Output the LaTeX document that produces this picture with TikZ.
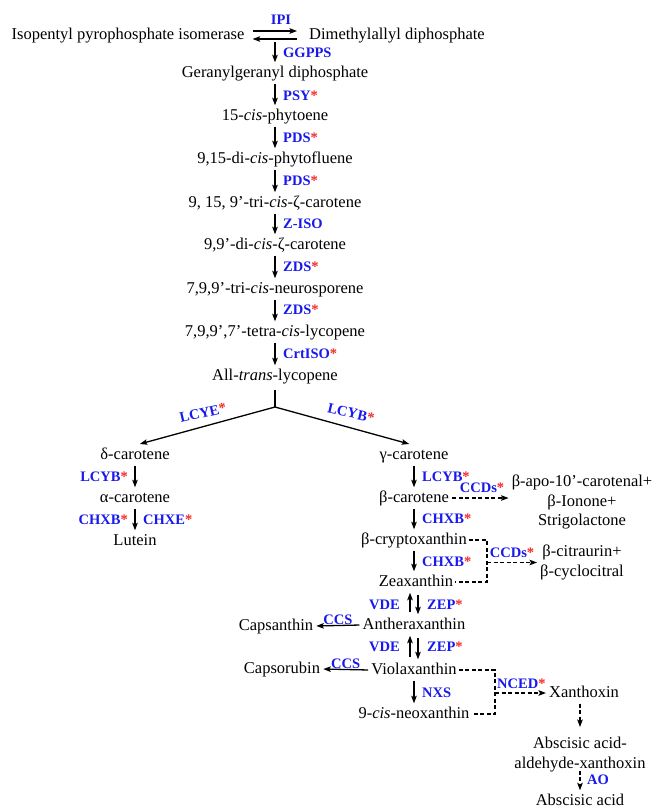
\documentclass[tikz,border=0pt]{standalone}
\usepackage{fontspec}
\setmainfont{Liberation Serif}
\usetikzlibrary{arrows.meta,calc}
\definecolor{eblue}{RGB}{25,25,235}
\definecolor{ered}{RGB}{245,40,40}
\newcommand{\rstar}{\textcolor{ered}{*}}
\begin{document}
\begin{tikzpicture}[x=1pt,y=-1pt,
  txt/.style={font=\fontsize{16.5}{19.5}\selectfont, inner sep=2pt, text height=11.5pt, text depth=3.5pt},
  txtm/.style={font=\fontsize{16.5}{19.5}\selectfont, inner sep=2pt, align=center},
  enz/.style={font=\bfseries\fontsize{14.5}{16}\selectfont, text=eblue, inner sep=1pt},
  arr/.style={-{Stealth[length=7.5pt,width=5.5pt,inset=1.5pt]}, line width=1.3pt, shorten >=1pt, shorten <=1pt},
  darr/.style={arr, dash pattern=on 4pt off 2.5pt},
  dln/.style={line width=1.3pt, dash pattern=on 4pt off 2.5pt},
  ln/.style={line width=1.3pt}]
\useasboundingbox (0,0) rectangle (654,806);

% top equilibrium
\node[txt] (ipp) at (128,35) {Isopentyl pyrophosphate isomerase};
\node[txt] (dma) at (397,35) {Dimethylallyl diphosphate};
\draw[arr, shorten <=6pt, shorten >=10pt] ($(ipp.east)+(0,-4)$) -- ($(dma.west)+(0,-4)$);
\draw[arr, shorten <=10pt, shorten >=6pt] ($(dma.west)+(0,4)$) -- ($(ipp.east)+(0,4)$);
\node[enz] (ipi) at (281,20) {IPI};
\coordinate (eq) at (275,42);

% main column
\node[txt] (ggpp) at (275,73) {Geranylgeranyl diphosphate};
\node[txt] (phy) at (275,116) {15-\textit{cis}-phytoene};
\node[txt] (pfl) at (275,159) {9,15-di-\textit{cis}-phytofluene};
\node[txt] (zc3) at (275,203) {9, 15, 9’-tri-\textit{cis}-ζ-carotene};
\node[txt] (zc2) at (275,245) {9,9’-di-\textit{cis}-ζ-carotene};
\node[txt] (neu) at (275,289) {7,9,9’-tri-\textit{cis}-neurosporene};
\node[txt] (lyct) at (275,332) {7,9,9’,7’-tetra-\textit{cis}-lycopene};
\node[txt] (lyc) at (275,376) {All-\textit{trans}-lycopene};

\draw[arr, shorten <=0pt] (eq) -- (ggpp.north);
\draw[arr] (ggpp.south) -- (phy.north);
\draw[arr] (phy.south) -- (pfl.north);
\draw[arr] (pfl.south) -- (zc3.north);
\draw[arr] (zc3.south) -- (zc2.north);
\draw[arr] (zc2.south) -- (neu.north);
\draw[arr] (neu.south) -- (lyct.north);
\draw[arr] (lyct.south) -- (lyc.north);

\node[enz, anchor=west] (e1) at (282,53) {GGPPS};
\node[enz, anchor=west] (e2) at (282,96) {PSY\rstar};
\node[enz, anchor=west] (e3) at (282,138) {PDS\rstar};
\node[enz, anchor=west] (e4) at (282,181) {PDS\rstar};
\node[enz, anchor=west] (e5) at (282,224) {Z-ISO};
\node[enz, anchor=west] (e6) at (282,267) {ZDS\rstar};
\node[enz, anchor=west] (e7) at (282,310) {ZDS\rstar};
\node[enz, anchor=west] (e8) at (282,354) {CrtISO\rstar};

% branch
\coordinate (jn) at (275,407);
\node[txt] (dcar) at (135,455) {δ-carotene};
\node[txt] (gcar) at (414,455) {γ-carotene};
\draw[ln, shorten <=4pt] (lyc.south) -- (jn);
\draw[arr, shorten <=0pt, shorten >=5pt] (jn) -- (dcar.north);
\draw[arr, shorten <=0pt, shorten >=5pt] (jn) -- (gcar.north);
\node[enz, rotate=13] (lcye) at (203,413) {LCYE\rstar};
\node[enz, rotate=-13] (lcyb) at (351,413) {LCYB\rstar};

% left column
\node[txt] (acar) at (135,498) {α-carotene};
\node[txt] (lut) at (135,541) {Lutein};
\draw[arr] (dcar.south) -- (acar.north);
\draw[arr] (acar.south) -- (lut.north);
\node[enz, anchor=east] (l1) at (129,477) {LCYB\rstar};
\node[enz, anchor=east] (l2) at (129,520) {CHXB\rstar};
\node[enz, anchor=west] (l3) at (142,520) {CHXE\rstar};

% right column
\node[txt] (bcar) at (414,498) {β-carotene};
\node[txt] (bcry) at (414,540) {β-cryptoxanthin};
\node[txt] (zea) at (416,582) {Zeaxanthin};
\node[txt] (ant) at (414,625) {Antheraxanthin};
\node[txt] (vio) at (414,670) {Violaxanthin};
\node[txt] (neo) at (414,714) {9-\textit{cis}-neoxanthin};
\draw[arr] (gcar.south) -- (bcar.north);
\draw[arr] (bcar.south) -- (bcry.north);
\draw[arr] (bcry.south) -- (bcry.south |- zea.north);
\draw[arr, shorten <=3pt] ([xshift=-4pt]ant.north) -- ([xshift=-4pt]ant.north |- zea.south);
\draw[arr, shorten <=3pt] ([xshift=4pt]ant.north |- zea.south) -- ([xshift=4pt]ant.north);
\draw[arr, shorten <=3pt] ([xshift=-4pt]vio.north) -- ([xshift=-4pt]ant.south);
\draw[arr, shorten <=3pt] ([xshift=4pt]ant.south) -- ([xshift=4pt]vio.north);
\draw[arr] (vio.south) -- (neo.north);
\node[enz, anchor=west] (r1) at (421,477) {LCYB\rstar};
\node[enz, anchor=west] (r2) at (421,519) {CHXB\rstar};
\node[enz, anchor=west] (r3) at (421,562) {CHXB\rstar};
\node[enz, anchor=east] (v1) at (401,605) {VDE};
\node[enz, anchor=west] (z1) at (426,605) {ZEP\rstar};
\node[enz, anchor=east] (v2) at (401,647) {VDE};
\node[enz, anchor=west] (z2) at (426,647) {ZEP\rstar};
\node[enz, anchor=west] (nx) at (421,693) {NXS};

% capsanthin / capsorubin
\node[txt] (cap) at (276,626) {Capsanthin};
\node[txt] (cpr) at (282,669) {Capsorubin};
\draw[arr] (ant.west) -- (cap.east) node[midway, above, enz, yshift=-1pt] (c1) {CCS};
\draw[arr] (vio.west) -- (cpr.east) node[midway, above, enz, yshift=-1pt] (c2) {CCS};

% CCDs 1
\node[txtm] (apo) at (582,502) {β-apo-10’-carotenal+\\β-Ionone+\\Strigolactone};
\draw[darr] (bcar.east) -- (bcar.east -| apo.west);
\node[enz] (cc1) at (482,488) {CCDs\rstar};

% CCDs 2
\coordinate (j1) at (487,563);
\node[txtm] (cit) at (582,562.5) {β-citraurin+\\β-cyclocitral};
\draw[dln] (bcry.east) -- (bcry.east -| j1) -- (zea.east -| j1) -- (zea.east);
\draw[darr, shorten <=0pt] (j1 |- cit.west) -- (cit.west);
\node[enz] (cc2) at (512,553) {CCDs\rstar};

% NCED / ABA
\coordinate (j2) at (495,693);
\node[txt] (xan) at (584,693) {Xanthoxin};
\draw[dln] (vio.east) -- (vio.east -| j2) -- (neo.east -| j2) -- (neo.east);
\draw[darr, shorten <=0pt] (j2) -- (xan.west);
\node[enz, anchor=west] (nc) at (496,684) {NCED\rstar};
\node[txtm] (aba1) at (580,754.5) {Abscisic acid-\\aldehyde-xanthoxin};
\node[txt] (aba) at (580,801) {Abscisic acid};
\draw[darr, shorten >=8pt] (xan.south -| aba1.north) -- (aba1.north);
\draw[darr, shorten <=-3pt] (aba1.south) -- (aba.north);
\node[enz, anchor=west] (ao) at (586,780) {AO};
\end{tikzpicture}
\end{document}
